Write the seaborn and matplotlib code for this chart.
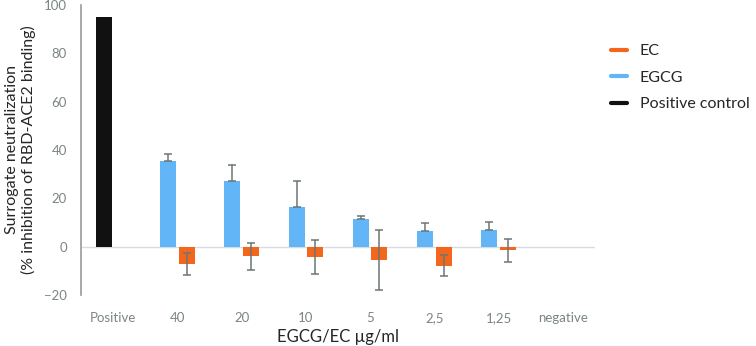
import numpy as np
import pandas as pd
import seaborn as sns
import matplotlib.pyplot as plt
from matplotlib.lines import Line2D

sns.set_style('white')
plt.rcParams['font.family'] = ['Lato', 'DejaVu Sans']

# data
concs = ['Positive', '40', '20', '10', '5', '2,5', '1,25', 'negative']
egcg = [95.0, 35.5, 27.1, 16.4, 11.6, 6.6, 7.0, 0.0]      # first value = positive control
egcg_err = [0.0, 2.9, 6.8, 10.9, 1.1, 3.2, 3.2, 0.0]
ec = [0.0, -7.2, -4.0, -4.4, -5.4, -7.9, -1.5, 0.0]
ec_err = [0.0, 4.4, 5.6, 7.0, 12.4, 4.3, 4.8, 0.0]

c_ec = '#F4661B'
c_egcg = '#62B5F6'
c_pos = '#111111'
c_err = '#6b7575'
c_tick = '#7a8585'

df = pd.DataFrame({
    'conc': concs * 2,
    'value': egcg + ec,
    'slot': ['EGCG'] * len(concs) + ['EC'] * len(concs),
})

fig = plt.figure(figsize=(7.56, 3.46), dpi=100)
ax = fig.add_axes([81/756, 1 - 295/346, (595 - 81)/756, 290/346])

sns.barplot(data=df, x='conc', y='value', hue='slot', hue_order=['EGCG', 'EC'],
            palette={'EGCG': c_egcg, 'EC': c_ec}, width=0.58, gap=0.14,
            saturation=1, linewidth=0, errorbar=None, legend=False, ax=ax)

left_bars = ax.containers[0]
right_bars = ax.containers[1]
left_bars[0].set_facecolor(c_pos)  # positive control bar

# error bars
xl = [b.get_x() + b.get_width()/2 for b in left_bars]
xr = [b.get_x() + b.get_width()/2 for b in right_bars]
ax.errorbar(xl[1:-1], egcg[1:-1], yerr=[np.zeros(6), egcg_err[1:-1]], fmt='none',
            ecolor=c_err, elinewidth=1.1, capsize=3, capthick=1.1)
ax.errorbar(xr[1:-1], ec[1:-1], yerr=ec_err[1:-1], fmt='none',
            ecolor=c_err, elinewidth=1.1, capsize=3, capthick=1.1)

ax.axhline(0, color='#d6dde2', linewidth=1, zorder=0.5)
ax.set_ylim(-20, 100)
ax.set_xlim(-0.5, len(concs) - 0.5)
ax.set_yticks(range(-20, 101, 20))
ax.tick_params(axis='both', length=0, labelsize=9.5, labelcolor=c_tick)
ax.tick_params(axis='x', pad=12)
ax.tick_params(axis='y', pad=10)

for s in ['top', 'right', 'bottom']:
    ax.spines[s].set_visible(False)
ax.spines['left'].set_color('#9a9a9a')
ax.spines['left'].set_linewidth(1.2)

ax.set_xlabel('EGCG/EC µg/ml', fontsize=12, labelpad=4)
ax.set_ylabel('Surrogate neutralization\n(% inhibition of RBD-ACE2 binding)', fontsize=11.5,
              labelpad=6, linespacing=1.15)

handles = [Line2D([], [], color=c_ec, lw=3),
           Line2D([], [], color=c_egcg, lw=3),
           Line2D([], [], color=c_pos, lw=3)]
fig.legend(handles, ['EC', 'EGCG', 'Positive control'], loc='upper left',
           bbox_to_anchor=(603/756, 1 - 36/346), frameon=False, fontsize=11.5,
           handlelength=1.0, handletextpad=0.8, labelspacing=0.78, borderpad=0)

fig.savefig('out.png', dpi=100)
